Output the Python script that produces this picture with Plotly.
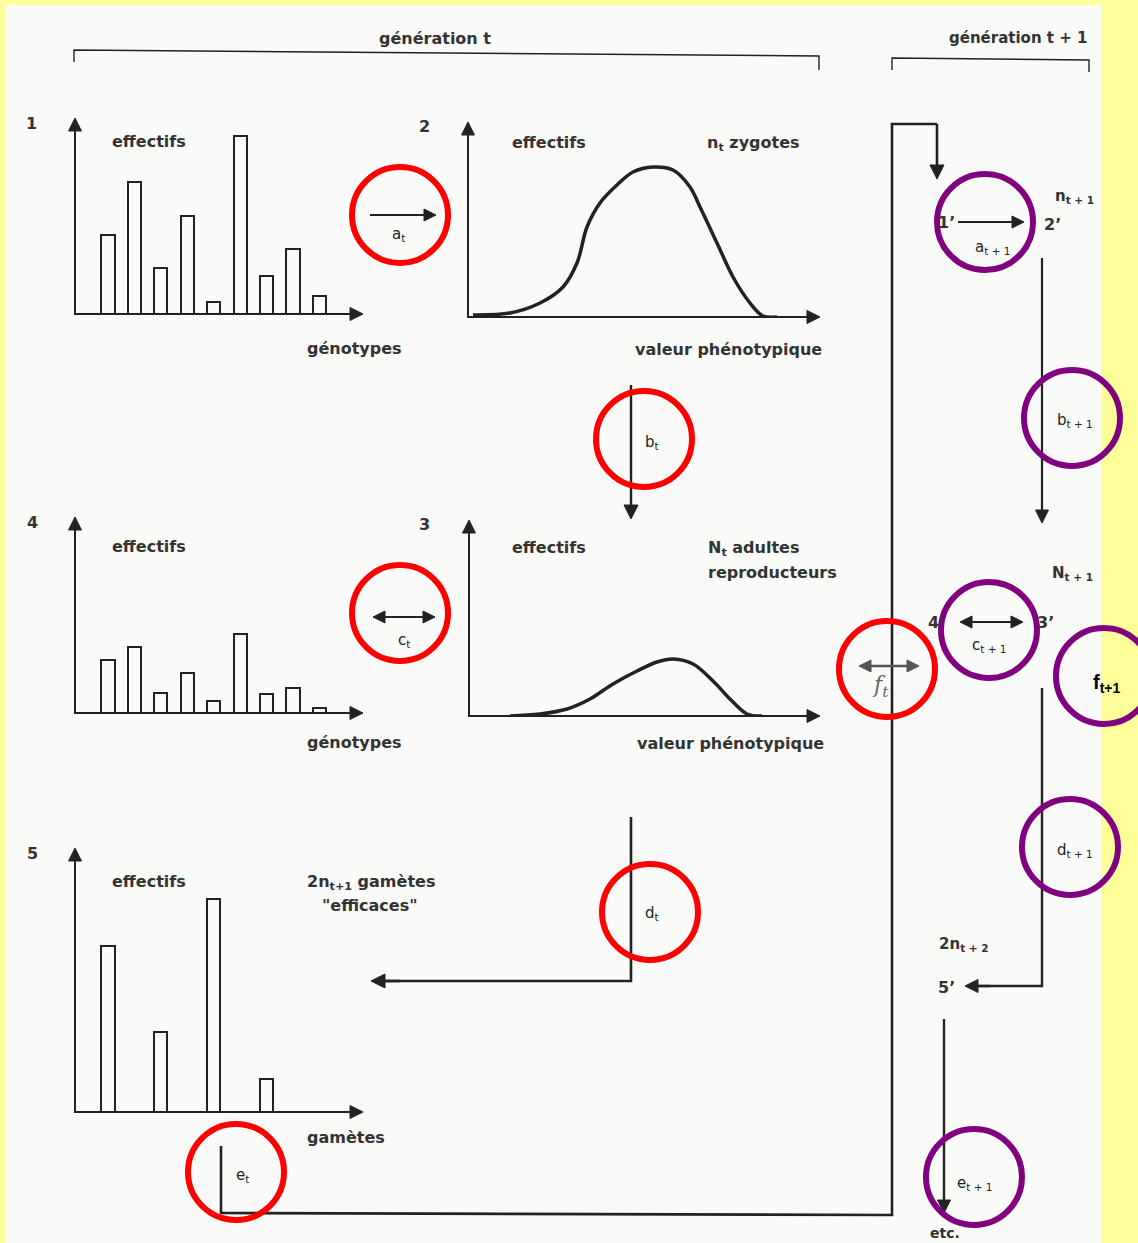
import math
import plotly.graph_objects as go

W, H = 1138, 1243

# ---------------- data ----------------
genotype_slots = [0, 1, 2, 3, 4, 5, 6, 7, 8]
zygote_genotype_counts = [79, 132, 46, 98, 12, 178, 38, 65, 18]      # panel 1
adult_genotype_counts = [53, 66, 20, 40, 12, 79, 19, 25, 5]          # panel 4
gamete_slots = [0, 2, 4, 6]
gamete_counts = [166, 80, 213, 33]                                    # panel 5
zygote_phen_values = [5, 42, 72, 95, 109, 119, 132, 149, 165, 185, 205, 222, 232, 249, 265, 282, 295, 309]
zygote_phen_counts = [2, 4, 14, 30, 54, 90, 114, 132, 145, 150, 147, 130, 110, 74, 40, 14, 1, 0]   # panel 2
adult_phen_values = [41, 71, 98, 121, 144, 168, 188, 204, 224, 244, 261, 278, 293]
adult_phen_counts = [0, 2, 7, 17, 32, 45, 54, 57, 52, 35, 17, 2, 0]                                # panel 3

INK = "#222222"
TXT = "#333333"
PAPER = "#FAFAF8"
YELLOW = "#FFFF99"
RED = "#FF0000"
PURPLE = "#800080"
FONT = "DejaVu Sans"

fig = go.Figure()

# ---------------- panel axes ----------------
def dx(a, b):
    return [a / W, b / W]

def dy(top, bottom):
    return [1 - bottom / H, 1 - top / H]

BAR_STEP = 26.44  # px between genotype slots
def bar_range(origin_px, first_center_px, tip_px):
    r0 = -(first_center_px - origin_px) / BAR_STEP
    return [r0, r0 + (tip_px - origin_px) / BAR_STEP]

panels = {
    # name: (xleft, xright, ytop, ybottom, xrange, yrange)
    "2": (75, 363, 118, 314, bar_range(75, 108, 363), [0, 196]),
    "3": (468, 820, 122, 317, [0, 352], [0, 195]),
    "4": (469, 820, 520, 716, [0, 351], [0, 196]),
    "5": (75, 363, 517, 713, bar_range(75, 108, 363), [0, 196]),
    "6": (75, 363, 848, 1112, bar_range(75, 108, 363), [0, 264]),
}

layout_axes = {}
for k, (xl, xr, yt, yb, xrg, yrg) in panels.items():
    layout_axes[f"xaxis{k}"] = dict(domain=dx(xl, xr), range=xrg, anchor=f"y{k}", visible=False, fixedrange=True)
    layout_axes[f"yaxis{k}"] = dict(domain=dy(yt, yb), range=yrg, anchor=f"x{k}", visible=False, fixedrange=True)

def bars(x, y, ax):
    fig.add_trace(go.Bar(x=x, y=y, width=0.5, xaxis=f"x{ax}", yaxis=f"y{ax}",
                         marker=dict(color=PAPER, line=dict(color=INK, width=2)),
                         showlegend=False, hoverinfo="skip"))

def curve(x, y, ax):
    fig.add_trace(go.Scatter(x=x, y=y, mode="lines", xaxis=f"x{ax}", yaxis=f"y{ax}",
                             line=dict(color=INK, width=3.5, shape="spline", smoothing=1.0),
                             showlegend=False, hoverinfo="skip"))

bars(genotype_slots, zygote_genotype_counts, "2")
bars(genotype_slots, adult_genotype_counts, "5")
bars(gamete_slots, gamete_counts, "6")
curve(zygote_phen_values, zygote_phen_counts, "3")
curve(adult_phen_values, adult_phen_counts, "4")

# invisible trace to instantiate the main pixel axes
fig.add_trace(go.Scatter(x=[0], y=[0], mode="markers", marker=dict(opacity=0), showlegend=False, hoverinfo="skip"))

# ---------------- shapes ----------------
shapes = []
shapes.append(dict(type="rect", xref="x", yref="y", x0=6, y0=5, x1=1101, y1=1243,
                   fillcolor=PAPER, line=dict(width=0), layer="below"))

def path(d, width=2.4, color=INK):
    shapes.append(dict(type="path", xref="x", yref="y", path=d, line=dict(color=color, width=width)))

def head(tx, ty, ux, uy, color=INK, L=12, hw=6):
    # filled triangle, tip at (tx,ty), pointing along unit vector (ux,uy)
    bx, by = tx - ux * L, ty - uy * L
    px, py = -uy, ux
    d = (f"M{tx},{ty} L{bx + px * hw},{by + py * hw} L{bx - px * hw},{by - py * hw} Z")
    shapes.append(dict(type="path", xref="x", yref="y", path=d, fillcolor=color,
                       line=dict(color=color, width=1)))

def arrow(x0, y0, x1, y1, both=False, color=INK, width=2.2, L=12, hw=6):
    ln = math.hypot(x1 - x0, y1 - y0)
    ux, uy = (x1 - x0) / ln, (y1 - y0) / ln
    sx, sy = (x0 + ux * (L - 2), y0 + uy * (L - 2)) if both else (x0, y0)
    ex, ey = x1 - ux * (L - 2), y1 - uy * (L - 2)
    path(f"M{sx},{sy} L{ex},{ey}", width=width, color=color)
    head(x1, y1, ux, uy, color, L, hw)
    if both:
        head(x0, y0, -ux, -uy, color, L, hw)

# brackets
path("M74,62 L74,50 L819,56 L819,70", width=1.4)
path("M892,70 L892,58 L1089,60 L1089,72", width=1.4)
# flow lines
path("M631,817 L631,981 L380,981", width=2.6)
path("M221,1146 L221,1213 L892,1215 L892,124 L937,124", width=2.6)
path("M1042,688 L1042,986 L975,986", width=2.4)

# panel axis arrows
for (ox, oy, tx, ty) in [(75, 314, 363, 118), (75, 713, 363, 517), (75, 1112, 363, 848),
                         (468, 317, 820, 122), (469, 716, 820, 520)]:
    arrow(ox, oy + 1, ox, ty, width=2, L=13, hw=6.5)
    arrow(ox - 1, oy, tx, oy, width=2, L=13, hw=6.5)

arrow(370, 215, 436, 215, width=2.2)                 # a_t
arrow(631, 385, 631, 519, width=2.4, L=14, hw=7)     # b_t
arrow(373, 617, 435, 617, both=True, width=2.2)      # c_t
arrow(400, 981, 371, 981, width=2.6, L=14, hw=7)     # d_t head
arrow(937, 124, 937, 179, width=2.6, L=14, hw=7)     # e_t head
arrow(859, 666, 919, 666, both=True, color="#555555", width=2.6)   # f_t
arrow(958, 222, 1024, 222, width=2.2)                # a_t+1
arrow(1042, 258, 1042, 523, width=2.2, L=13, hw=6.5) # b_t+1
arrow(960, 622, 1023, 622, both=True, width=2.2)     # c_t+1
arrow(990, 986, 965, 986, width=2.4, L=13, hw=6.5)   # d_t+1 head
arrow(944, 1019, 944, 1213, width=2.4, L=13, hw=6.5) # e_t+1

def circle(cx, cy, color, r=48, w=6):
    shapes.append(dict(type="circle", xref="x", yref="y", x0=cx - r, x1=cx + r, y0=cy - r, y1=cy + r,
                       line=dict(color=color, width=w), layer="above"))

# red circles (generation t)
for cx, cy in [(400, 215), (644, 439), (400, 613), (650, 912), (236, 1172), (887, 669)]:
    circle(cx, cy, RED)
# purple circles (generation t+1)
for cx, cy in [(985, 222), (1072, 418), (989, 630), (1104, 676), (1070, 847), (974, 1177)]:
    circle(cx, cy, PURPLE)

# ---------------- text ----------------
ann = []

def T(x, y, text, size=16, anchor="left", color=TXT, family=FONT, weight="bold"):
    ann.append(dict(x=x, y=y, xref="x", yref="y", text=text, showarrow=False,
                    xanchor=anchor, yanchor="middle",
                    font=dict(family=family, size=size, color=color, weight=weight)))

# headers
T(377, 38, "génération t")
T(947, 38, "génération t + 1", 15)
# panel numbers
for (x, y, s) in [(31, 123, "1"), (424, 126, "2"), (424, 524, "3"), (32, 522, "4"), (32, 853, "5")]:
    T(x, y, s, anchor="center")
# panel 1
T(110, 141, "effectifs")
T(305, 348, "génotypes")
# panel 2
T(510, 142, "effectifs")
T(705, 143, "n<sub>t</sub> zygotes")
T(633, 349, "valeur phénotypique")
# panel 4
T(110, 546, "effectifs")
T(305, 742, "génotypes")
# panel 3
T(510, 547, "effectifs")
T(706, 548, "N<sub>t</sub> adultes")
T(706, 572, "reproducteurs")
T(635, 743, "valeur phénotypique")
# panel 5
T(110, 881, "effectifs")
T(305, 882, "2n<sub>t+1</sub> gamètes")
T(320, 905, "\"efficaces\"")
T(305, 1137, "gamètes")

# generation t transition labels
SM = 15
LBL = "#222222"
T(398, 234, "a<sub>t</sub>", SM, "center", color=LBL, weight="normal")
T(652, 442, "b<sub>t</sub>", SM, "center", color=LBL, weight="normal")
T(404, 640, "c<sub>t</sub>", SM, "center", color=LBL, weight="normal")
T(652, 913, "d<sub>t</sub>", SM, "center", color=LBL, weight="normal")
T(242, 1175, "e<sub>t</sub>", SM, "center", color=LBL, weight="normal")
T(880, 686, "<i>f<sub>t</sub></i>", 22, "center", color="#666666", family="DejaVu Serif", weight="normal")

# generation t+1
T(1053, 196, "n<sub>t + 1</sub>", 15)
T(946, 222, "1’", 16, "center")
T(1052, 224, "2’", 16, "center")
T(992, 247, "a<sub>t + 1</sub>", SM, "center", color=LBL, weight="normal")
T(1075, 420, "b<sub>t + 1</sub>", SM, "center", color=LBL, weight="normal")
T(1072, 573, "N<sub>t + 1</sub>", 15, "center")
T(936, 622, "4’", 16, "center")
T(1045, 622, "3’", 16, "center")
T(989, 645, "c<sub>t + 1</sub>", SM, "center", color=LBL, weight="normal")
T(1107, 683, "f<sub>t+1</sub>", 20, "center", color="#000000", family="Liberation Sans")
T(1075, 850, "d<sub>t + 1</sub>", SM, "center", color=LBL, weight="normal")
T(937, 944, "2n<sub>t + 2</sub>", 15)
T(946, 987, "5’", 16, "center")
T(975, 1183, "e<sub>t + 1</sub>", SM, "center", color=LBL, weight="normal")
T(945, 1233, "etc.", 14, "center")

fig.update_layout(
    width=W, height=H,
    margin=dict(l=0, r=0, t=0, b=0, pad=0),
    paper_bgcolor=YELLOW,
    plot_bgcolor="rgba(0,0,0,0)",
    showlegend=False,
    xaxis=dict(domain=[0, 1], range=[0, W], visible=False, fixedrange=True),
    yaxis=dict(domain=[0, 1], range=[H, 0], visible=False, fixedrange=True),
    shapes=shapes,
    annotations=ann,
    bargap=0,
    **layout_axes,
)

fig.write_html("out.html", config={"displayModeBar": False},
               post_script="document.body.style.margin='0';")
